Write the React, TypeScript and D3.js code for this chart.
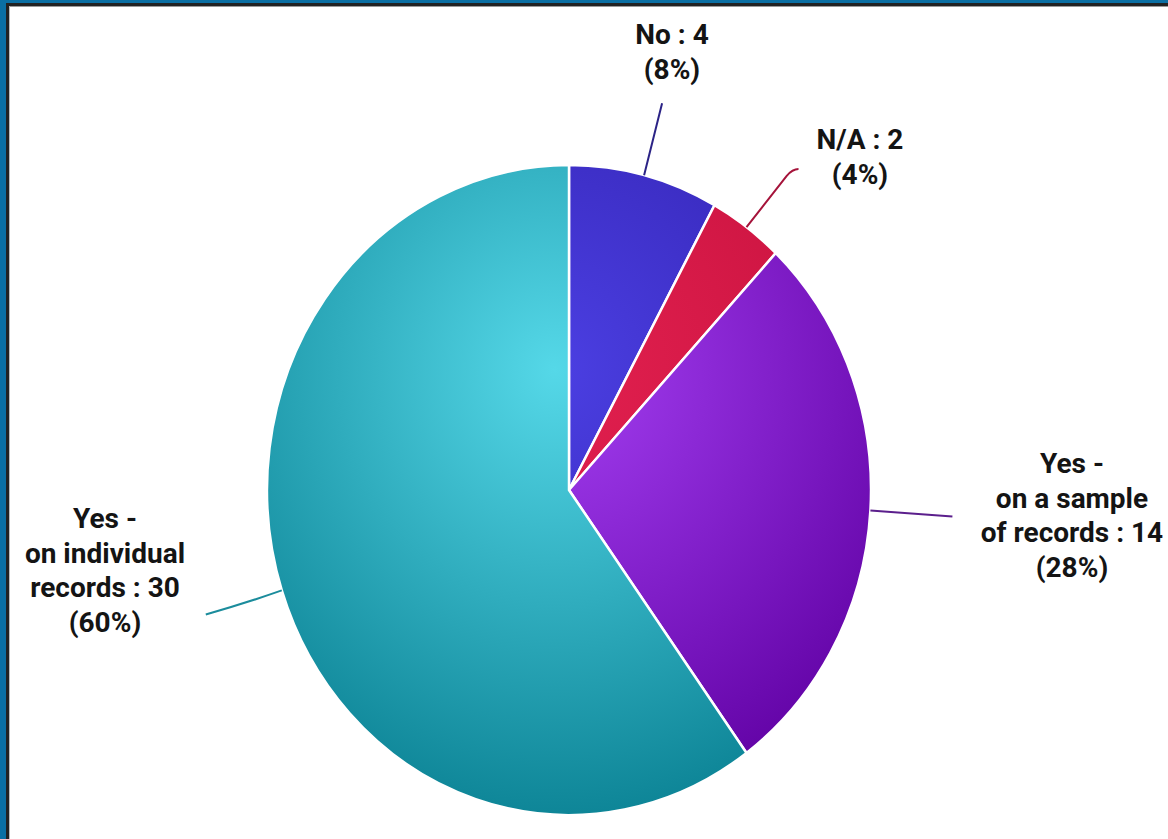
import React from "react";
import * as d3 from "d3";

// survey answers, clockwise from 12 o'clock
const categories = ["No", "N/A", "Yes - on a sample of records", "Yes - on individual records"];
const values = [4, 2, 14, 30];
const labelLines = [
  ["No : 4"],
  ["N/A : 2"],
  ["Yes -", "on a sample", "of records : 14"],
  ["Yes -", "on individual", "records : 30"],
];
const innerColors = ["#4b3fe2", "#e2204f", "#a43ff2", "#55d8e8"];
const outerColors = ["#2d1ca6", "#c20f3b", "#5f00a2", "#0a8193"];
const leaderColors = ["#2b2386", "#a5133a", "#5b1f8c", "#1b8c9c"];

const width = 1168;
const height = 839;
const cx = 569;
const cy = 490;
const rx = 302;
const ry = 325;

// label layout: anchor of first text line, leader end offset from slice edge
const labelPos = [
  { x: 672, y: 44, end: [18, -72] },
  { x: 860, y: 149, end: [52, -58] },
  { x: 1072, y: 473, end: [82, 6] },
  { x: 105, y: 528, end: [-76, 24] },
];

const App: React.FC = () => {
  const total = d3.sum(values);
  const pie = d3.pie<number>().sort(null).value((d) => d);
  const arcs = pie(values);
  const arc = d3.arc<d3.PieArcDatum<number>>().innerRadius(0).outerRadius(ry);
  const fmt = d3.format(".0%");

  const edge = (a: number) => [cx + rx * Math.sin(a), cy - ry * Math.cos(a)];

  return (
    <svg
      width={width}
      height={height}
      style={{ position: "absolute", left: 0, top: 0, background: "#fff" }}
      fontFamily="Roboto, 'DejaVu Sans', sans-serif"
    >
      <defs>
        {categories.map((c, i) => (
          <radialGradient
            key={c}
            id={`grad${i}`}
            gradientUnits="userSpaceOnUse"
            cx={-15}
            cy={-120}
            r={470}
          >
            <stop offset="0" stopColor={innerColors[i]} />
            <stop offset="1" stopColor={outerColors[i]} />
          </radialGradient>
        ))}
      </defs>

      {/* frame */}
      <rect x={0} y={0} width={width} height={3} fill="#0b6fa3" />
      <rect x={0} y={0} width={6} height={height} fill="#0b6fa3" />
      <rect x={6} y={3} width={width - 6} height={3} fill="#222" />
      <rect x={6} y={3} width={3} height={height - 3} fill="#222" />
      <rect x={9} y={6} width={width - 9} height={1} fill="#999" />
      <rect x={9} y={6} width={1} height={height - 6} fill="#bbb" />

      <g transform={`translate(${cx},${cy}) scale(${rx / ry},1)`}>
        {arcs.map((d, i) => (
          <path
            key={categories[i]}
            d={arc(d) || ""}
            fill={`url(#grad${i})`}
            stroke="#fff"
            strokeWidth={2.5}
            vectorEffect="non-scaling-stroke"
          />
        ))}
      </g>

      {arcs.map((d, i) => {
        const mid = (d.startAngle + d.endAngle) / 2;
        const [sx, sy] = edge(mid);
        const [ox, oy] = labelPos[i].end;
        const ex = sx + ox;
        const ey = sy + oy;
        let path = `M${sx},${sy}L${ex},${ey}`;
        if (i === 1) {
          path = `M${sx},${sy}L${ex - 12},${ey + 7}Q${ex - 6},${ey} ${ex},${ey}`;
        }
        if (i === 3) {
          path = `M${sx},${sy}Q${sx - 40},${sy + 14} ${ex},${ey}`;
        }
        return (
          <path
            key={categories[i]}
            d={path}
            fill="none"
            stroke={leaderColors[i]}
            strokeWidth={2}
          />
        );
      })}

      {labelLines.map((lines, i) => {
        const all = [...lines, `(${fmt(values[i] / total)})`];
        return (
          <text
            key={categories[i]}
            x={labelPos[i].x}
            y={labelPos[i].y}
            textAnchor="middle"
            fontSize={28}
            fontWeight="bold"
            fill="#141414"
          >
            {all.map((t, j) => (
              <tspan key={j} x={labelPos[i].x} dy={j === 0 ? 0 : 34.5}>
                {t}
              </tspan>
            ))}
          </text>
        );
      })}
    </svg>
  );
};

export default App;
